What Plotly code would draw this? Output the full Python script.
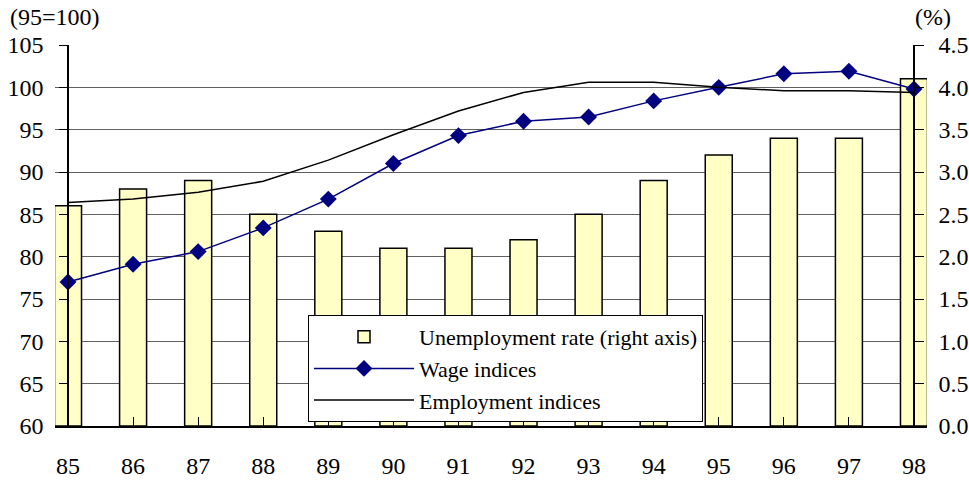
import plotly.graph_objects as go

years = ["85", "86", "87", "88", "89", "90", "91", "92", "93", "94", "95", "96", "97", "98"]
unemployment = [2.6, 2.8, 2.9, 2.5, 2.3, 2.1, 2.1, 2.2, 2.5, 2.9, 3.2, 3.4, 3.4, 4.1]
wage = [77.0, 79.1, 80.6, 83.4, 86.8, 91.0, 94.3, 96.0, 96.5, 98.4, 100.0, 101.6, 101.9, 99.8]
employment = [86.4, 86.8, 87.6, 88.9, 91.4, 94.4, 97.2, 99.4, 100.6, 100.6, 100.0, 99.6, 99.6, 99.4]
left_ticks = [60, 65, 70, 75, 80, 85, 90, 95, 100, 105]
right_ticks = [0.0, 0.5, 1.0, 1.5, 2.0, 2.5, 3.0, 3.5, 4.0, 4.5]

FONT = "Liberation Serif"
FS = 24
W, H = 969, 481
L, R, T, B = 55, 42, 45, 55
plot_w = W - L - R
plot_h = H - T - B

fig = go.Figure()
# bars on the main (right-hand) axis so that the index lines are drawn above them
fig.add_trace(go.Bar(
    x=years, y=unemployment, name="Unemployment rate (right axis)",
    yaxis="y", width=0.415,
    marker=dict(color="#FFFFC6", line=dict(color="black", width=1.5)),
))
fig.add_trace(go.Scatter(
    x=years, y=wage, name="Wage indices", mode="lines+markers", yaxis="y2",
    line=dict(color="#000080", width=1.5),
    marker=dict(symbol="diamond", size=13, color="#000080"),
))
fig.add_trace(go.Scatter(
    x=years, y=employment, name="Employment indices", mode="lines", yaxis="y2",
    line=dict(color="black", width=1.5),
))

fig.update_layout(
    width=W, height=H,
    margin=dict(l=L, r=R, t=T, b=B, autoexpand=False),
    paper_bgcolor="white", plot_bgcolor="white",
    font=dict(family=FONT, size=FS, color="black"),
    showlegend=True,
    legend=dict(
        x=(308 - L) / plot_w, y=(426 - 315) / plot_h,
        xanchor="left", yanchor="top",
        bgcolor="white", bordercolor="black", borderwidth=1,
        font=dict(family=FONT, size=22, color="black"),
        itemwidth=100, tracegroupgap=0,
    ),
    xaxis=dict(
        type="category", range=[-0.2, 13.2], domain=[0, 1], automargin=False,
        showline=True, linecolor="black", linewidth=1.5,
        ticks="inside", ticklen=9, tickcolor="black",
        showgrid=False, ticklabelstandoff=17,
        tickfont=dict(family=FONT, size=FS),
    ),
    yaxis=dict(
        range=[0, 4.5], tickvals=right_ticks, tickformat=".1f",
        side="right", anchor="free", position=(914 - L) / plot_w, automargin=False,
        showline=True, linecolor="black", linewidth=1.5,
        ticks="outside", ticklen=9, tickcolor="black",
        showgrid=True, gridcolor="#606060", gridwidth=1,
        zeroline=False, ticklabelstandoff=10,
        tickfont=dict(family=FONT, size=FS),
    ),
    yaxis2=dict(
        range=[60, 105], tickvals=left_ticks,
        overlaying="y", side="left",
        anchor="free", position=13 / plot_w, automargin=False,
        showline=True, linecolor="black", linewidth=1.5,
        ticks="outside", ticklen=8, tickcolor="black",
        showgrid=False, zeroline=False, ticklabelstandoff=11,
        tickfont=dict(family=FONT, size=FS),
    ),
    annotations=[
        dict(text="(95=100)", xref="paper", yref="paper",
             x=(8 - L) / plot_w, y=1 + 28 / plot_h,
             xanchor="left", yanchor="middle", showarrow=False,
             font=dict(family=FONT, size=FS)),
        dict(text="(%)", xref="paper", yref="paper",
             x=(913 - L) / plot_w, y=1 + 28 / plot_h,
             xanchor="left", yanchor="middle", showarrow=False,
             font=dict(family=FONT, size=FS)),
    ],
)

fig.write_html(
    "out.html",
    config={"displayModeBar": False},
    post_script="document.body.style.margin='0';document.body.style.padding='0';",
)
